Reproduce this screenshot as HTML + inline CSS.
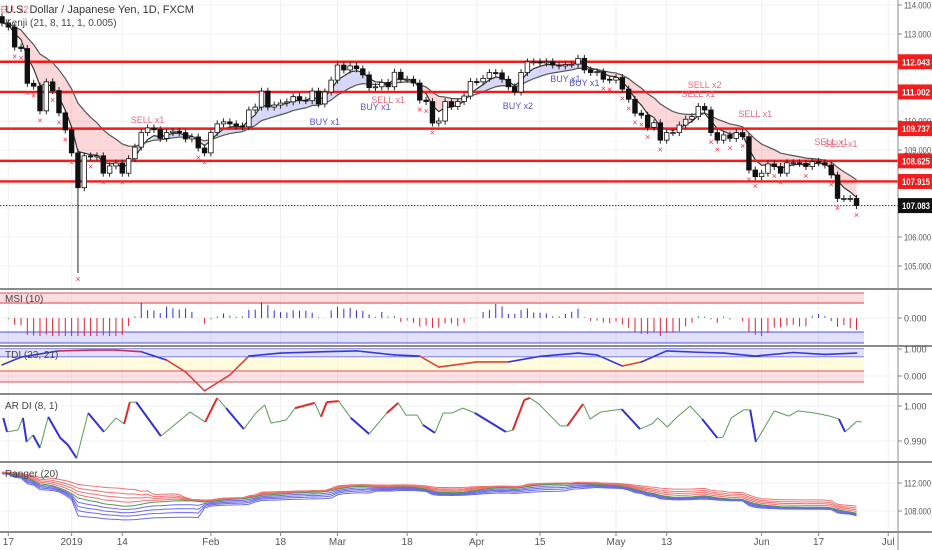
<!DOCTYPE html>
<html><head><meta charset="utf-8"><style>
html,body{margin:0;padding:0;background:#fff;}
svg{display:block;font-family:"Liberation Sans",sans-serif;}
</style></head><body>
<svg id="chart" width="932" height="550" viewBox="0 0 932 550" xmlns="http://www.w3.org/2000/svg"></svg>
<script>
// ---------- data ----------
const closes=[113.38,113.24,112.55,112.5,111.3,111.2,110.35,111.35,111.05,110.28,
109.69,108.9,107.7,108.8,108.76,108.8,108.2,108.45,108.55,108.2,
108.7,109.1,109.6,109.76,109.7,109.4,109.6,109.65,109.6,109.38,
109.45,109.07,108.9,109.6,109.9,109.97,109.9,109.83,109.8,110.38,
110.48,111.03,110.48,110.55,110.62,110.66,110.84,110.72,110.7,111.03,
110.59,111.0,111.41,111.93,111.76,111.9,111.8,111.59,111.15,111.18,
111.33,111.18,111.68,111.44,111.44,111.31,110.72,110.67,109.93,110.0,
110.67,110.5,110.67,110.86,111.36,111.35,111.47,111.67,111.66,111.44,
111.18,111.0,111.67,112.04,112.04,112.0,112.04,111.93,111.9,111.95,
111.96,112.16,111.76,111.67,111.7,111.44,111.41,111.5,111.1,110.75,
110.27,110.2,109.78,109.94,109.34,109.6,109.6,109.86,110.06,110.15,
110.5,110.38,109.6,109.34,109.52,109.4,109.6,109.46,108.31,108.08,
108.2,108.52,108.43,108.2,108.56,108.56,108.54,108.43,108.6,108.56,
108.48,108.14,107.33,107.33,107.33,107.083];
const opens=[113.6,113.38,113.24,112.55,112.5,111.3,111.2,110.35,111.35,111.05,
110.28,109.69,108.9,107.7,108.8,108.76,108.8,108.2,108.45,108.55,
108.2,108.7,109.1,109.6,109.76,109.7,109.4,109.6,109.65,109.6,
109.38,109.45,109.07,108.9,109.6,109.9,109.97,109.9,109.83,109.8,
110.38,110.48,111.03,110.48,110.55,110.62,110.66,110.84,110.72,110.7,
111.03,110.59,111.0,111.41,111.93,111.76,111.9,111.8,111.59,111.15,
111.18,111.33,111.18,111.68,111.44,111.44,111.31,110.72,110.67,109.93,
110.0,110.67,110.5,110.67,110.86,111.36,111.35,111.47,111.67,111.66,
111.44,111.18,111.0,111.67,112.04,112.04,112.0,112.04,111.93,111.9,
111.95,111.96,112.16,111.76,111.67,111.7,111.44,111.41,111.5,111.1,
110.75,110.27,110.2,109.78,109.94,109.34,109.6,109.6,109.86,110.06,
110.15,110.5,110.38,109.6,109.34,109.52,109.4,109.6,109.46,108.31,
108.08,108.2,108.52,108.43,108.2,108.56,108.56,108.54,108.43,108.6,
108.56,108.48,108.14,107.33,107.33,107.33];
const spikeLowIdx=[12];
const spikeLowVal=[104.76];
const levels=[112.043,111.002,109.737,108.625,107.915];
const lastPrice=[107.083];
const priceTicks=[114,113,110,109,106,105];
const dateLabels=["17","2019","14","Feb","18","Mar","18","Apr","15","May","13","Jun","17","Jul"];
const dateIdx=[1,11,19,33,44,53,64,75,85,97,105,120,129,140];
const sigIdx=[1.5,23,51,59,61,81.5,89,92,110,111,119,131,132.5];
const sigPrice=[113.75,109.93,109.86,110.38,110.62,110.41,111.34,111.2,110.83,111.14,110.14,109.17,109.1];
const sigText=["SELL x2","SELL x1","BUY x1","BUY x1","SELL x1","BUY x2","BUY x1","BUY x1","SELL x1","SELL x2","SELL x1","SELL x1","SELL x1"];
const tdiIdx=[0,3,9,14,18,22,26,29,32,36,39,44,51,56,62,66,69,75,80,85,91,94,98,101,105,110,114,119,125,130,135];
const tdiVal=[0.41,0.70,0.93,0.96,0.96,0.90,0.59,0.15,-0.55,0.04,0.74,0.85,0.90,0.93,0.78,0.74,0.33,0.52,0.52,0.73,0.85,0.78,0.37,0.52,0.93,0.88,0.85,0.74,0.87,0.80,0.85];
const ardIdx=[0.2,0.8,2.5,3.3,3.9,4.9,6,7.3,9.2,10.4,11.8,13.6,16.1,18,19.3,20.2,21.2,25.1,29.7,32.1,34,35.4,38.2,40.1,41.5,42.5,44.9,46.3,49.4,50.4,51.3,53.2,55.1,58,60.8,62.6,63.8,65.6,66.5,68.4,69.7,71.1,72.8,74.7,79.6,80.7,82.5,83.4,84.8,88.2,89.3,91.8,92.9,94.6,97.9,100.8,102.7,103.6,105.1,106.5,108.7,110.6,113,113.9,115.2,117.2,118.2,119.1,122,124.3,125.7,128.4,130.8,132.2,133.2,135.1,135.8];
const ardVal=[.9966,.9926,.9931,.9966,.9897,.9917,.988,.9969,.9909,.9889,.9851,.998,.9926,.9966,.9949,1.0011,1.0011,.9914,.9983,.9954,1.0023,.9994,.9934,.998,1.0003,.9951,.996,.9994,1.0009,.9969,1.0011,1.0014,.9966,.992,.998,1.0009,.9974,.9974,.9946,.9923,.998,.998,.9994,.998,.9926,.9931,1.0017,1.0023,1.0006,.9943,.9943,1.0006,.9963,.9983,.9991,.9934,.9949,.9966,.994,.9966,1.0,.9963,.9909,.9911,.9966,.9989,.9989,.9897,.9986,.9971,.9986,.998,.9971,.9963,.9926,.9957,.9954];

// ---------- helpers ----------
const svg=document.getElementById('chart');
const NS='http://www.w3.org/2000/svg';
function mk(tag,attrs,parent){const e=document.createElementNS(NS,tag);for(const k in attrs)e.setAttribute(k,attrs[k]);(parent||svg).appendChild(e);return e;}
function txt(s,x,y,attrs,parent){const e=mk('text',Object.assign({x:x,y:y},attrs||{}),parent);e.textContent=s;return e;}
const X=i=>2+i*6.33;
const Y=p=>34+(113-p)*29;           // main price
const YM=v=>318-v*9;                 // MSI
const YT=v=>376-v*27;                // TDI
const YA=v=>406+(1-v)*3500;          // AR DI
const YR=p=>483+(112-p)*7;           // Ranger
const AX=898;
function ema(a,n){const k=2/(n+1);const r=[];a.forEach((v,i)=>r.push(i?r[i-1]+k*(v-r[i-1]):v));return r;}
const n=closes.length;
const highs=closes.map((c,i)=>Math.max(c,opens[i])+0.12);
const lows=closes.map((c,i)=>Math.min(c,opens[i])-0.12);
spikeLowIdx.forEach((ix,k)=>{lows[ix]=spikeLowVal[k];});

// ---------- clips ----------
const defs=mk('defs',{});
[['cMain',0,0,AX,289],['cMsi',0,291,AX,54],['cTdi',0,348,AX,45],['cArd',0,396,AX,65],['cRng',0,464,AX,67]].forEach(c=>{const cp=mk('clipPath',{id:c[0]},defs);mk('rect',{x:c[1],y:c[2],width:c[3],height:c[4]},cp);});

// ---------- grid ----------
const grid=mk('g',{});


dateIdx.forEach(i=>{mk('line',{x1:X(i),x2:X(i),y1:0,y2:532,stroke:'#eef0f3','stroke-width':1},grid);});
[114,113,112,111,110,109,108,107,106,105].forEach(p=>mk('line',{x1:0,x2:AX,y1:Y(p),y2:Y(p),stroke:'#eef0f3'},grid));
[318,349,376,406,441,483,511].forEach(y=>mk('line',{x1:0,x2:AX,y1:y,y2:y,stroke:'#eef0f3'},grid));

// ---------- main panel ----------
const main=mk('g',{'clip-path':'url(#cMain)'});


const fast=ema(closes,4), slow=ema(closes,13);
const cloud=mk('g',{},main);


for(let i=0;i<n-1;i++){
  const d=fast[i]-slow[i];
  const col=Math.abs(d)<0.12?'rgba(120,200,120,0.28)':(d<0?'rgba(240,110,120,0.28)':'rgba(110,110,230,0.28)');
  mk('polygon',{points:`${X(i)},${Y(fast[i])} ${X(i+1)},${Y(fast[i+1])} ${X(i+1)},${Y(slow[i+1])} ${X(i)},${Y(slow[i])}`,fill:col},cloud);
}
const fl=mk('polyline',{points:fast.map((v,i)=>X(i)+','+Y(v)).join(' '),fill:'none',stroke:'#333','stroke-width':1.2},main);


const sl=mk('polyline',{points:slow.map((v,i)=>X(i)+','+Y(v)).join(' '),fill:'none',stroke:'#555','stroke-width':1.2},main);


levels.forEach(l=>{const e=mk('line',{x1:0,x2:AX,y1:Y(l),y2:Y(l),stroke:'#ee1c1c','stroke-width':2.4},main);

});
const ll=mk('line',{x1:0,x2:AX,y1:Y(lastPrice[0]),y2:Y(lastPrice[0]),stroke:'#333','stroke-width':1,'stroke-dasharray':'1.5,1.5'},main);


for(let i=0;i<n;i++){
  const g=mk('g',{},main);
  
  
  const x=X(i),o=opens[i],c=closes[i];
  mk('line',{x1:x,x2:x,y1:Y(highs[i]),y2:Y(lows[i]),stroke:'#222','stroke-width':1},g);
  const top=Y(Math.max(o,c)),bot=Y(Math.min(o,c));
  mk('rect',{x:x-2.3,y:top,width:4.6,height:Math.max(1,bot-top),fill:c>=o?'#fff':'#111',stroke:'#111','stroke-width':0.8},g);
  if(i>1&&c<slow[i]-0.2&&c<fast[i]&&c<o){
    const m=txt('×',x,Y(lows[i])+9,{'font-size':9,fill:'#e8384a','text-anchor':'middle'},main);
    
    
  }
}
sigIdx.forEach((si,k)=>{
  const isBuy=sigText[k].startsWith('BUY');
  const t=txt(sigText[k],X(si),Y(sigPrice[k]),{'font-size':9,fill:isBuy?'#5555cc':'#e8687a','text-anchor':'middle'},main);
  
  
});
const t1=txt('U.S. Dollar / Japanese Yen, 1D, FXCM',5,13,{'font-size':11,fill:'#333'});


const t2=txt('Kenji (21, 8, 11, 1, 0.005)',5,26,{'font-size':10,fill:'#444'});



// ---------- MSI ----------
const msi=mk('g',{'clip-path':'url(#cMsi)'});


mk('rect',{x:0,y:293,width:864,height:11,fill:'rgba(240,120,130,0.25)'},msi);
mk('line',{x1:0,x2:864,y1:293,y2:293,stroke:'#e05060'},msi);
mk('line',{x1:0,x2:864,y1:303,y2:303,stroke:'#e05060'},msi);
mk('rect',{x:0,y:332,width:864,height:11,fill:'rgba(130,130,240,0.25)'},msi);
mk('line',{x1:0,x2:864,y1:332,y2:332,stroke:'#5050e0'},msi);
mk('line',{x1:0,x2:864,y1:343,y2:343,stroke:'#5050e0'},msi);
for(let i=0;i<n;i++){
  const v=closes[i]-closes[Math.max(0,i-10)];
  const col=Math.abs(v)<0.35?'#3a9a4a':(v>0?'#3030e0':'#e02030');
  const y=Math.max(297,Math.min(336,YM(v*0.9)));
  const b=mk('line',{x1:X(i),x2:X(i),y1:318,y2:y,stroke:col,'stroke-width':1},msi);
  
  
}
txt('MSI (10)',5,302,{'font-size':10,fill:'#444'});

// ---------- TDI ----------
const tdi=mk('g',{'clip-path':'url(#cTdi)'});


mk('rect',{x:0,y:348,width:864,height:9,fill:'rgba(130,130,240,0.25)'},tdi);
mk('line',{x1:0,x2:864,y1:348,y2:348,stroke:'#5050e0'},tdi);
mk('line',{x1:0,x2:864,y1:357,y2:357,stroke:'#5050e0'},tdi);
mk('rect',{x:0,y:357,width:864,height:14,fill:'rgba(255,250,200,0.6)'},tdi);
mk('rect',{x:0,y:371,width:864,height:11,fill:'rgba(240,120,130,0.22)'},tdi);
mk('line',{x1:0,x2:864,y1:371,y2:371,stroke:'#e05060'},tdi);
mk('line',{x1:0,x2:864,y1:382,y2:382,stroke:'#e05060'},tdi);
for(let k=0;k<tdiIdx.length-1;k++){
  const a=tdiVal[k],b=tdiVal[k+1];
  const col=(a+b)/2<0.55?'#e0403a':((a+b)/2>0.9&&k<6?'#d03050':'#3838d8');
  const s=mk('line',{x1:X(tdiIdx[k]),y1:YT(a),x2:X(tdiIdx[k+1]),y2:YT(b),stroke:col,'stroke-width':1.6,'stroke-linecap':'round'},tdi);
  
  
}
txt('TDI (23, 21)',5,358,{'font-size':10,fill:'#444'});

// ---------- AR DI ----------
const ard=mk('g',{'clip-path':'url(#cArd)'});


for(let k=0;k<ardIdx.length-1;k++){
  const a=ardVal[k],b=ardVal[k+1];
  let col='#5a9a5a',w=1;
  if(b>a&&b>=1.0005){col='#e02a2a';w=2;}
  else if(b<a&&b<=0.9935){col='#3030d8';w=2;}
  const s=mk('line',{x1:X(ardIdx[k]),y1:YA(a),x2:X(ardIdx[k+1]),y2:YA(b),stroke:col,'stroke-width':w},ard);
  
  
}
txt('AR DI (8, 1)',5,409,{'font-size':10,fill:'#444'});

// ---------- Ranger ----------
const rng=mk('g',{'clip-path':'url(#cRng)'});


const mid=ema(closes,8);
const hh=[],ll2=[];
for(let i=0;i<n;i++){let h=-1e9,l=1e9;for(let j=Math.max(0,i-19);j<=i;j++){h=Math.max(h,highs[j]);l=Math.min(l,lows[j]);}hh.push(h);ll2.push(l);}
const facs=[0.12,0.24,0.36,0.5];
facs.forEach(f=>{
  const up=mk('polyline',{points:mid.map((m,i)=>X(i)+','+YR(m+(hh[i]-m)*f)).join(' '),fill:'none',stroke:'#f07070','stroke-width':1},rng);
  
  
  const dn=mk('polyline',{points:mid.map((m,i)=>X(i)+','+YR(m-(m-ll2[i])*f)).join(' '),fill:'none',stroke:'#6a6ae8','stroke-width':1},rng);
  
  
});
const ml=mk('polyline',{points:mid.map((m,i)=>X(i)+','+YR(m)).join(' '),fill:'none',stroke:'#4a9a4a','stroke-width':1},rng);


txt('Ranger (20)',5,477,{'font-size':10,fill:'#444'});

// ---------- separators & axes ----------
[289,346,394,462,532].forEach(y=>{const s=mk('line',{x1:0,x2:932,y1:y,y2:y,stroke:'#8a8a8a','stroke-width':2});

});
mk('line',{x1:AX,x2:AX,y1:0,y2:550,stroke:'#8a8a8a','stroke-width':1});
const ax=mk('g',{'font-size':9,fill:'#555'});


priceTicks.forEach(p=>{txt(p.toFixed(3),904,Y(p)+3.5,{textLength:27,lengthAdjust:'spacingAndGlyphs'},ax);mk('line',{x1:AX,x2:AX+4,y1:Y(p),y2:Y(p),stroke:'#888'},ax);});
levels.forEach(l=>{
  const g=mk('g',{},ax);
  
  
  mk('rect',{x:AX,y:Y(l)-7.5,width:34,height:15,fill:'#f01e1e'},g);
  txt(l.toFixed(3),902,Y(l)+3.5,{fill:'#fff','font-weight':'bold',textLength:28,lengthAdjust:'spacingAndGlyphs'},g);
});
const lp=mk('g',{},ax);


mk('rect',{x:AX,y:Y(lastPrice[0])-7.5,width:34,height:15,fill:'#111'},lp);
txt(lastPrice[0].toFixed(3),902,Y(lastPrice[0])+3.5,{fill:'#fff','font-weight':'bold',textLength:28,lengthAdjust:'spacingAndGlyphs'},lp);
[['0.000',318],['1.000',349],['0.000',376],['1.000',406],['0.990',441],['112.000',483],['108.000',511]].forEach(a=>{txt(a[0],904,a[1]+3.5,a[0].length>5?{textLength:27,lengthAdjust:'spacingAndGlyphs'}:{},ax);mk('line',{x1:AX,x2:AX+4,y1:a[1],y2:a[1],stroke:'#888'},ax);});
const dx=mk('g',{'font-size':10,fill:'#555','text-anchor':'middle'});


dateLabels.forEach((d,k)=>{txt(d,X(dateIdx[k]),545,{},dx);mk('line',{x1:X(dateIdx[k]),x2:X(dateIdx[k]),y1:532,y2:536,stroke:'#888'},dx);});
</script>
</body></html>
